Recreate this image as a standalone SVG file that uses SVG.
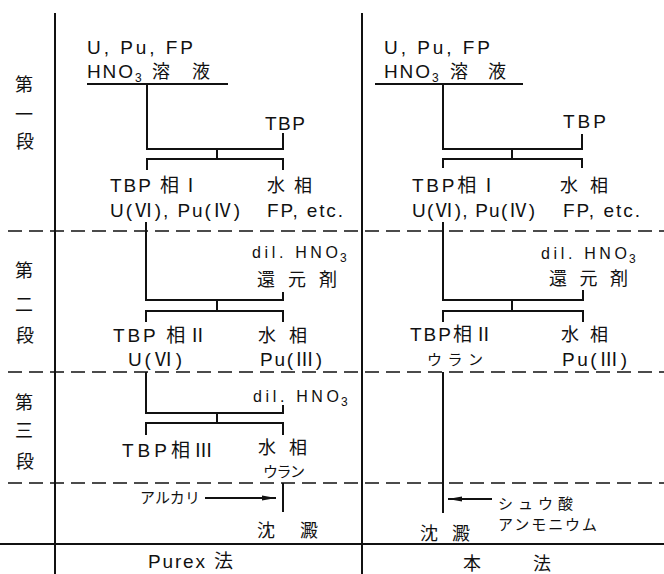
<svg xmlns="http://www.w3.org/2000/svg" width="664" height="574" viewBox="0 0 664 574">
<defs>
<style>
.t{font-family:"Liberation Sans","Noto Sans CJK JP",sans-serif;font-size:19px;fill:#111}
.s{font-size:16px}
.j{font-family:"Noto Sans CJK JP",sans-serif;font-size:18px;fill:#111}
.k{font-family:"Noto Sans CJK JP",sans-serif;font-size:15px;fill:#111}
.sub{font-size:12px}
.ln{fill:none;stroke:#111;stroke-width:2}
.fr{fill:none;stroke:#111;stroke-width:2}
.da{fill:none;stroke:#111;stroke-width:1.6;stroke-dasharray:14 7}
</style>
<marker id="ah" viewBox="0 0 14 6" refX="14" refY="3" markerWidth="14" markerHeight="6" markerUnits="userSpaceOnUse" orient="auto">
<path d="M0 0.6 L14 3 L0 5.4 z" fill="#111"/>
</marker>
</defs>
<rect width="664" height="574" fill="#fff"/>
<g id="frame">
<path class="fr" d="M55 13 V574 M362 13 V574 M0 544 H664"/>
<path class="da" d="M8 231 H664 M8 372 H664 M8 483 H664"/>
</g>
<g id="stage-labels">
<text class="j" x="24" y="91" text-anchor="middle">第</text>
<text class="j" x="24" y="121" text-anchor="middle">一</text>
<text class="j" x="25" y="148" text-anchor="middle">段</text>
<text class="j" x="24" y="277" text-anchor="middle">第</text>
<text class="j" x="24" y="311" text-anchor="middle">二</text>
<text class="j" x="25" y="342" text-anchor="middle">段</text>
<text class="j" x="24" y="409" text-anchor="middle">第</text>
<text class="j" x="24" y="437" text-anchor="middle">三</text>
<text class="j" x="25" y="468" text-anchor="middle">段</text>
</g>
<g id="connectors">
<path class="ln" d="M87 84 H228 M147 84 V149 H283 V133 M217 149 V159 M147 170 V159 H283 V170"/>
<path class="ln" d="M146 222 V300 H283 V292 M217 300 V311 M146 322 V311 H283 V322"/>
<path class="ln" d="M146 372 V413 H283 V405 M217 413 V423 M146 435 V423 H283 V435"/>
<path class="ln" d="M283 483 V512"/>
<path class="ln" d="M205 498 H276" marker-end="url(#ah)"/>
<path class="ln" d="M375 84 H523 M443 84 V149 H582 V134 M512 149 V159 M443 168 V159 H582 V168"/>
<path class="ln" d="M443 222 V300 H583 V290 M512 300 V311 M443 322 V311 H583 V322"/>
<path class="ln" d="M443 372 V513"/>
<path class="ln" d="M492 499 H448" marker-end="url(#ah)"/>
</g>
<g id="purex-feed">
<text class="t" x="87" y="54" textLength="106" lengthAdjust="spacing">U, Pu, FP</text>
<text class="t" x="87" y="78" textLength="46" lengthAdjust="spacing">HNO</text>
<text class="t sub" x="135" y="82">3</text>
<text class="j" x="152" y="78" textLength="58" lengthAdjust="spacing">溶液</text>
</g>
<g id="purex-tbp1"><text class="t" x="265" y="130" textLength="40" lengthAdjust="spacing">TBP</text></g>
<g id="purex-org1">
<text class="t" x="110" y="192" textLength="90" lengthAdjust="spacing">TBP 相<tspan font-family="Noto Sans CJK JP">Ⅰ</tspan></text>
<text class="t" x="110" y="217" textLength="130" lengthAdjust="spacing">U(<tspan font-family="Noto Sans CJK JP">Ⅵ</tspan>), Pu(<tspan font-family="Noto Sans CJK JP">Ⅳ</tspan>)</text>
</g>
<g id="purex-aq1">
<text class="j" x="267" y="192" textLength="45" lengthAdjust="spacing">水相</text>
<text class="t" x="267" y="217" textLength="76" lengthAdjust="spacing">FP, etc.</text>
</g>
<g id="purex-red2">
<text class="t s" x="252" y="258" textLength="86" lengthAdjust="spacing">dil. HNO</text>
<text class="t sub" x="340" y="262">3</text>
<text class="j" x="257" y="286" textLength="80" lengthAdjust="spacing">還元剤</text>
</g>
<g id="purex-org2">
<text class="t" x="113" y="342" textLength="94" lengthAdjust="spacing">TBP 相<tspan font-family="Noto Sans CJK JP">Ⅱ</tspan></text>
<text class="t" x="128" y="366" textLength="54" lengthAdjust="spacing">U(<tspan font-family="Noto Sans CJK JP">Ⅵ</tspan>)</text>
</g>
<g id="purex-aq2">
<text class="j" x="258" y="342" textLength="49" lengthAdjust="spacing">水相</text>
<text class="t" x="260" y="366" textLength="62" lengthAdjust="spacing">Pu(<tspan font-family="Noto Sans CJK JP">Ⅲ</tspan>)</text>
</g>
<g id="purex-acid3">
<text class="t s" x="253" y="402" textLength="86" lengthAdjust="spacing">dil. HNO</text>
<text class="t sub" x="341" y="406">3</text>
</g>
<g id="purex-org3"><text class="t" x="122" y="457" textLength="91" lengthAdjust="spacing">TBP相<tspan font-family="Noto Sans CJK JP">Ⅲ</tspan></text></g>
<g id="purex-aq3">
<text class="j" x="258" y="454" textLength="49" lengthAdjust="spacing">水相</text>
<text class="k" x="263" y="477" textLength="42" lengthAdjust="spacing">ウラン</text>
</g>
<g id="purex-alkali"><text class="k" x="140" y="503" textLength="60" lengthAdjust="spacing">アルカリ</text></g>
<g id="purex-ppt"><text class="j" x="257" y="537" textLength="61" lengthAdjust="spacing" font-size="20">沈澱</text></g>
<g id="purex-title"><text class="t" x="148" y="568" textLength="85" lengthAdjust="spacing">Purex 法</text></g>

<g id="new-feed">
<text class="t" x="384" y="54" textLength="106" lengthAdjust="spacing">U, Pu, FP</text>
<text class="t" x="384" y="78" textLength="46" lengthAdjust="spacing">HNO</text>
<text class="t sub" x="432" y="82">3</text>
<text class="j" x="450" y="78" textLength="56" lengthAdjust="spacing">溶液</text>
</g>
<g id="new-tbp1"><text class="t" x="563" y="128" textLength="43" lengthAdjust="spacing">TBP</text></g>
<g id="new-org1">
<text class="t" x="412" y="192" textLength="86" lengthAdjust="spacing">TBP相<tspan font-family="Noto Sans CJK JP">Ⅰ</tspan></text>
<text class="t" x="412" y="217" textLength="123" lengthAdjust="spacing">U(<tspan font-family="Noto Sans CJK JP">Ⅵ</tspan>), Pu(<tspan font-family="Noto Sans CJK JP">Ⅳ</tspan>)</text>
</g>
<g id="new-aq1">
<text class="j" x="560" y="192" textLength="48" lengthAdjust="spacing">水相</text>
<text class="t" x="563" y="217" textLength="77" lengthAdjust="spacing">FP, etc.</text>
</g>
<g id="new-red2">
<text class="t s" x="541" y="259" textLength="86" lengthAdjust="spacing">dil. HNO</text>
<text class="t sub" x="629" y="263">3</text>
<text class="j" x="549" y="285" textLength="79" lengthAdjust="spacing">還元剤</text>
</g>
<g id="new-org2">
<text class="t" x="410" y="341" textLength="83" lengthAdjust="spacing">TBP相<tspan font-family="Noto Sans CJK JP">Ⅱ</tspan></text>
<text class="k" x="427" y="365" textLength="56" lengthAdjust="spacing">ウラン</text>
</g>
<g id="new-aq2">
<text class="j" x="561" y="341" textLength="47" lengthAdjust="spacing">水相</text>
<text class="t" x="562" y="366" textLength="65" lengthAdjust="spacing">Pu(<tspan font-family="Noto Sans CJK JP">Ⅲ</tspan>)</text>
</g>
<g id="new-oxalate">
<text class="k" x="498" y="509" textLength="75" lengthAdjust="spacing" font-size="14">シュウ酸</text>
<text class="k" x="498" y="530" textLength="99" lengthAdjust="spacing" font-size="14">アンモニウム</text>
</g>
<g id="new-ppt"><text class="j" x="420" y="540" textLength="50" lengthAdjust="spacing" font-size="20">沈澱</text></g>
<g id="new-title">
<text class="j" x="463" y="570">本</text>
<text class="j" x="533" y="570">法</text>
</g>
</svg>
